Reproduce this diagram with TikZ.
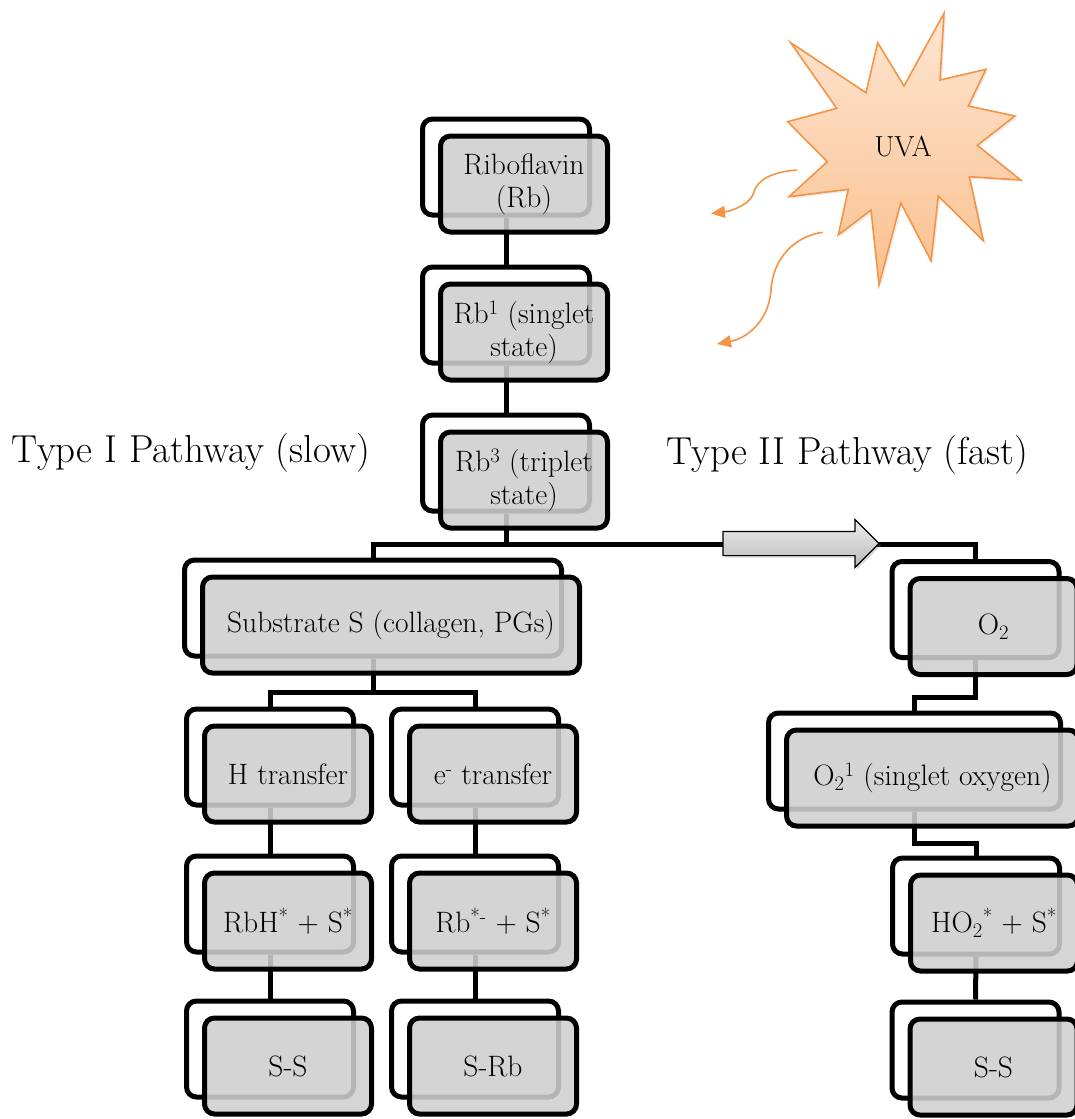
\documentclass[tikz,border=0pt]{standalone}
\usetikzlibrary{shapes.arrows,shadows,arrows.meta}
\definecolor{boxgray}{RGB}{207,207,207}
\definecolor{startop}{RGB}{253,229,210}
\definecolor{starbot}{RGB}{250,192,142}
\definecolor{starline}{RGB}{244,148,68}
\pgfdeclarelayer{bg}
\pgfsetlayers{bg,main}
\newcommand\dblbox[5][167]{%
  \node[backbox, minimum width=#1pt] (#2) at (#3,#4) {};
  \node[frontbox, minimum width=#1pt, xshift=18pt, yshift=-17pt] (#2f) at (#2) {#5};}
\begin{document}
\begin{tikzpicture}[x=1pt,y=-1pt,
  backbox/.style={rectangle, rounded corners=10pt, draw=black, line width=5pt,
    fill=white, minimum height=96pt, inner sep=0pt},
  frontbox/.style={rectangle, rounded corners=10pt, draw=black, line width=5pt,
    fill=boxgray, fill opacity=0.88, text opacity=1, minimum height=96pt,
    inner sep=0pt, align=center, font=\fontsize{29.5}{33}\selectfont},
  conn/.style={draw=black, line width=5pt},
  title/.style={font=\fontsize{39}{42}\selectfont, inner sep=0pt},
  ray/.style={draw=starline, line width=1.6pt, -{Triangle[length=14pt,width=12pt]}}
]
\useasboundingbox (0,0) rectangle (1075,1119);
\clip (0,0) rectangle (1075,1119);

% star
\path[draw=starline, line width=1.6pt, top color=startop, bottom color=starbot,
  drop shadow={shadow xshift=2pt, shadow yshift=-2pt, opacity=0.15}]
  (790.7,42.7) -- (866,92.7) -- (877.7,42.7) -- (904,86) -- (944,13.3) -- (940,80)
  -- (986,69.3) -- (968.3,106) -- (1015,116) -- (977.3,145.3) -- (1020.7,180)
  -- (969.3,176.7) -- (983.3,240.7) -- (938.3,196) -- (931,260.7) -- (900.7,202.7)
  -- (879,285) -- (871,210) -- (838.3,235) -- (848.3,189.3) -- (789,196.7)
  -- (827.3,161.7) -- (787.7,121.7) -- (836.7,108.3) -- cycle;
\node[font=\fontsize{29}{32}\selectfont] (uva) at (903,146) {UVA};

\coordinate (r1s) at (796.7,170);
\coordinate (r1e) at (711,213.5);
\coordinate (r2s) at (822.7,232.3);
\coordinate (r2e) at (717,344);
\draw[ray] (r1s) .. controls (772,172) and (757,180) .. (754,192)
  .. controls (751,204) and (732,211) .. (r1e);
\draw[ray] (r2s) .. controls (795,236) and (773,258) .. (771,290)
  .. controls (769,320) and (748,338) .. (r2e);

% titles
\node[title] (t1) at (191,453) {Type I Pathway (slow)};
\node[title] (t2) at (847,455) {Type II Pathway (fast)};

% boxes
\dblbox{b1}{506}{167}{Riboflavin\\(Rb)}
\dblbox{b2}{506}{315}{Rb\textsuperscript{1} (singlet\\state)}
\dblbox{b3}{506}{463}{Rb\textsuperscript{3} (triplet\\state)}
\dblbox[377]{sub}{373}{608}{Substrate S (collagen, PGs)}
\dblbox{h}{270}{757}{H transfer}
\dblbox{e}{475}{757}{e\textsuperscript{-} transfer}
\dblbox{rbh}{270}{904}{RbH\textsuperscript{*} + S\textsuperscript{*}}
\dblbox{rbm}{475}{904}{Rb\textsuperscript{*-} + S\textsuperscript{*}}
\dblbox{ss1}{270}{1049}{S-S}
\dblbox{srb}{475}{1049}{S-Rb}
\dblbox{o2}{975.5}{609.5}{O\textsubscript{2}}
\dblbox[292]{o21}{914.5}{761}{O\textsubscript{2}\textsuperscript{1} (singlet oxygen)}
\dblbox{ho2}{976}{906}{HO\textsubscript{2}\textsuperscript{*} + S\textsuperscript{*}}
\dblbox{ss2}{975.5}{1050}{S-S}

% connectors
\begin{pgfonlayer}{bg}
\draw[conn] (b1.south) -- (b2.north);
\draw[conn] (b2.south) -- (b3.north);
\draw[conn] (b3.south) -- ++(0,31) coordinate (split) -| (sub.north);
\draw[conn] (split) -| (o2.north);
\draw[conn] (sub.south) -- ++(0,34) coordinate (split2) -| (h.north);
\draw[conn] (split2) -| (e.north);
\draw[conn] (h.south) -- (rbh.north);
\draw[conn] (rbh.south) -- (ss1.north);
\draw[conn] (e.south) -- (rbm.north);
\draw[conn] (rbm.south) -- (srb.north);
\draw[conn] (o2.south) -- ++(0,37) -| (o21.north);
\draw[conn] (o21.south) -- ++(0,32) -| (ho2.north);
\draw[conn] (ho2.south) -- (ss2.north);
\end{pgfonlayer}

% big arrow
\node[single arrow, draw=black, line width=1.2pt, minimum height=156pt,
  single arrow head extend=12pt, inner xsep=0pt, inner ysep=11.5pt,
  top color=black!7, bottom color=black!27,
  drop shadow={shadow xshift=2pt, shadow yshift=-2pt, opacity=0.3}] (arr) at (795,543.5) {};
\end{tikzpicture}
\end{document}
